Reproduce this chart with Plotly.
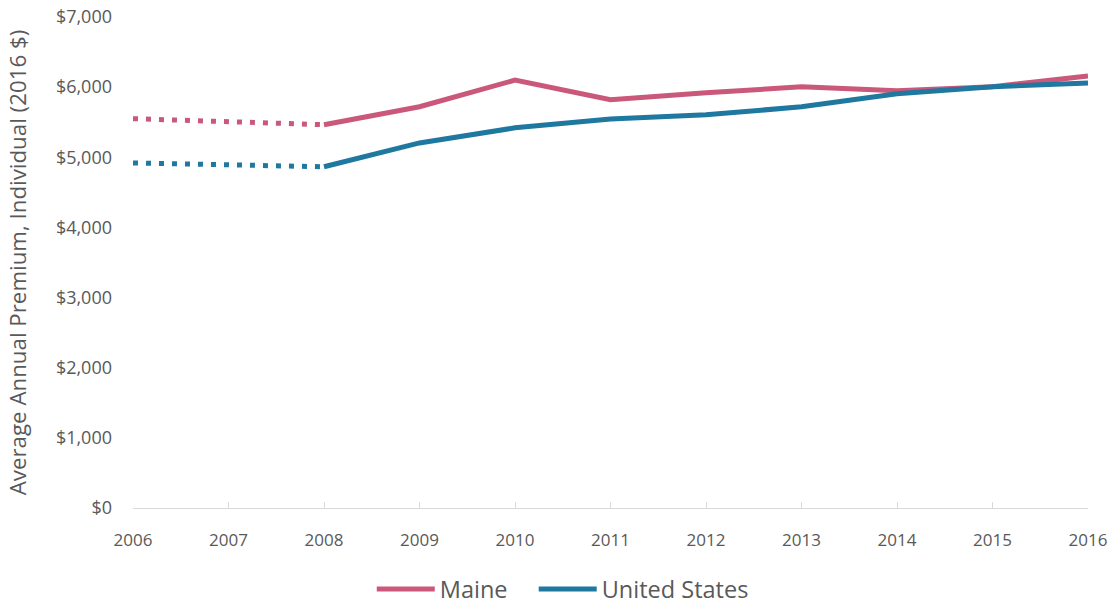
import plotly.graph_objects as go

#data (2016 $)
years = [2006, 2007, 2008, 2009, 2010, 2011, 2012, 2013, 2014, 2015, 2016]
maine = [5550, 5505, 5465, 5720, 6100, 5820, 5920, 6005, 5950, 6005, 6160]
us = [4920, 4890, 4865, 5205, 5420, 5545, 5605, 5720, 5905, 6005, 6060]
y_ticks = [0, 1000, 2000, 3000, 4000, 5000, 6000, 7000]
y_tick_labels = ['$' + f'{v:,}' for v in y_ticks]

maine_col = '#c9587b'
us_col = '#1f789f'

fig = go.Figure()

#dotted part (2006-2008), solid after. each series gets its own legend box so the spacing matches
for vals, col, name, leg in [(maine, maine_col, 'Maine', 'legend'), (us, us_col, 'United States', 'legend2')]:
    fig.add_trace(go.Scatter(x=years[:3], y=vals[:3], mode='lines', line=dict(color=col, width=5, dash='5px,8px'),
                             showlegend=False, hoverinfo='skip'))
    fig.add_trace(go.Scatter(x=years[2:], y=vals[2:], mode='lines', line=dict(color=col, width=5), name=name,
                             legend=leg))

leg_style = dict(orientation='h', xanchor='left', y=-0.21, yanchor='bottom', font=dict(size=23.5), itemwidth=58)

#autoexpand off so the legend doesnt squash the plot area
fig.update_layout(
    width=1118, height=607,
    margin=dict(l=133, r=30, t=17, b=99, autoexpand=False),
    plot_bgcolor='white', paper_bgcolor='white',
    font=dict(family='Open Sans, sans-serif', size=17, color='#595959'),
    legend=dict(x=0.25, **leg_style),
    legend2=dict(x=0.4196, **leg_style),
    xaxis=dict(range=[2006, 2016], tickvals=years, ticktext=[str(y) for y in years],
               showgrid=False, zeroline=False, showline=True, linecolor='#d9d9d9', linewidth=1,
               ticks='inside', ticklen=6, tickcolor='#d9d9d9', tickfont=dict(size=17), ticklabelstandoff=17,
               ticklabeloverflow='allow'),
    yaxis=dict(range=[0, 7000], tickvals=y_ticks, ticktext=y_tick_labels, showgrid=False, zeroline=False,
               showline=False, ticks='', tickfont=dict(size=18), ticklabelstandoff=20, ticklabeloverflow='allow',
               title=dict(text='Average Annual Premium, Individual (2016 $)', font=dict(size=22.3), standoff=23)),
)

#drop the default 8px body margin so the figure fills the window
fig.write_html("out.html", config={'displayModeBar': False}, post_script="document.body.style.margin='0';")
